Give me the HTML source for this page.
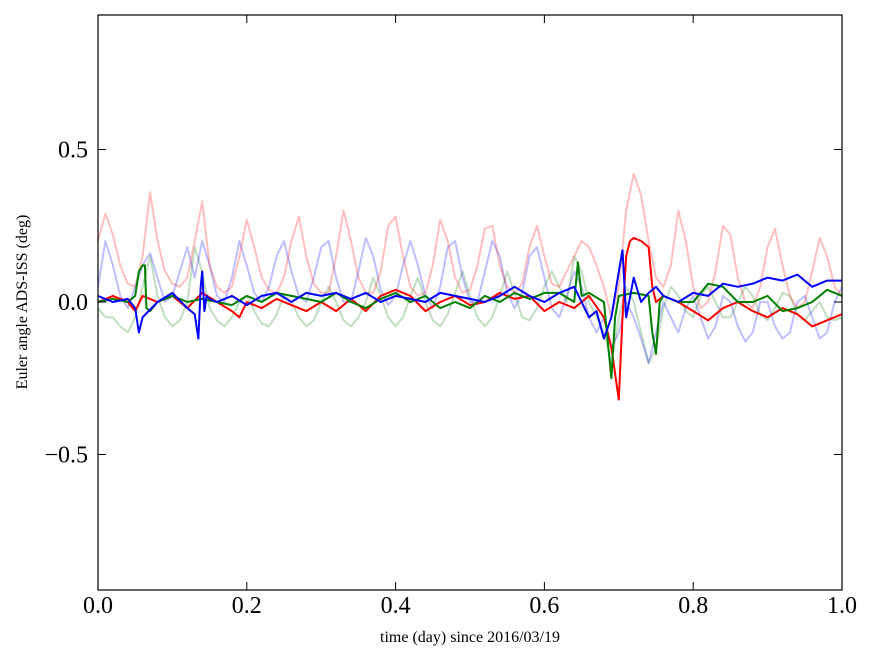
<!DOCTYPE html>
<html><head><meta charset="utf-8"><style>
html,body{margin:0;padding:0;background:#fff;}
svg{display:block;font-family:"Liberation Serif",serif;}
</style></head><body>
<svg id="chart" width="875" height="662">
<rect x="0" y="0" width="875" height="662" fill="#fff"/>
<g id="plot"></g>
<rect x="98" y="15" width="744" height="575" fill="none" stroke="#000" stroke-width="1.2"/>
<g id="axes"></g>
<text x="470" y="642" font-size="16" text-anchor="middle">time (day) since 2016/03/19</text>
<text x="27" y="302" font-size="16" text-anchor="middle" transform="rotate(-90 27 302)">Euler angle ADS-ISS (deg)</text>
</svg>
<script>
const xTicks=[0,0.2,0.4,0.6,0.8,1.0];
const xTickLabels=["0.0","0.2","0.4","0.6","0.8","1.0"];
const yTicks=[0.5,0,-0.5];
const yTickLabels=["0.5","0.0","\u22120.5"];
const gridX=[0,0.01,0.02,0.03,0.04,0.05,0.06,0.07,0.08,0.09,0.10,0.11,0.12,0.13,0.14,0.15,0.16,0.17,0.18,0.19,0.20,0.21,0.22,0.23,0.24,0.25,0.26,0.27,0.28,0.29,0.30,0.31,0.32,0.33,0.34,0.35,0.36,0.37,0.38,0.39,0.40,0.41,0.42,0.43,0.44,0.45,0.46,0.47,0.48,0.49,0.50,0.51,0.52,0.53,0.54,0.55,0.56,0.57,0.58,0.59,0.60,0.61,0.62,0.63,0.64,0.65,0.66,0.67,0.68,0.69,0.70,0.71,0.72,0.73,0.74,0.75,0.76,0.77,0.78,0.79,0.80,0.81,0.82,0.83,0.84,0.85,0.86,0.87,0.88,0.89,0.90,0.91,0.92,0.93,0.94,0.95,0.96,0.97,0.98,0.99,1.0];
const faintRed=[0.20,0.29,0.22,0.12,0.06,0.05,0.15,0.36,0.20,0.10,0.06,0.05,0.08,0.20,0.33,0.12,0.05,0.03,0.05,0.15,0.27,0.18,0.08,0.04,0.03,0.08,0.20,0.28,0.15,0.06,0.03,0.03,0.15,0.30,0.20,0.08,0.03,0.03,0.10,0.25,0.28,0.15,0.05,0.02,0.03,0.12,0.27,0.20,0.08,0.03,0.04,0.12,0.24,0.25,0.12,0.05,0.03,0.06,0.18,0.25,0.15,0.06,0.05,0.10,0.15,0.20,0.18,0.12,0.05,-0.05,0.05,0.30,0.42,0.35,0.20,0.08,0.05,0.12,0.30,0.20,0.05,-0.02,0.0,0.10,0.25,0.22,0.08,0.0,-0.02,0.05,0.18,0.24,0.12,0.02,-0.02,0.0,0.10,0.21,0.15,0.05,0.02];
const faintBlue=[0.05,0.20,0.12,0.02,-0.02,0.05,0.12,0.16,0.08,0.0,0.02,0.10,0.18,0.08,0.20,0.12,0.02,0.0,0.08,0.20,0.12,0.03,0.0,0.05,0.15,0.20,0.10,0.02,0.0,0.08,0.18,0.20,0.08,0.0,0.0,0.10,0.21,0.15,0.04,-0.01,0.02,0.12,0.20,0.12,0.02,-0.02,0.05,0.18,0.20,0.08,0.0,0.0,0.10,0.20,0.15,0.03,-0.02,0.03,0.15,0.18,0.08,-0.02,-0.05,0.02,0.10,0.05,-0.05,-0.10,-0.05,-0.15,-0.10,0.0,-0.05,-0.12,-0.20,-0.10,0.0,-0.05,-0.10,-0.02,0.02,-0.05,-0.12,-0.08,0.02,0.0,-0.08,-0.13,-0.10,0.0,0.0,-0.08,-0.12,-0.10,0.0,0.02,-0.05,-0.12,-0.10,0.0,0.05];
const faintGreen=[-0.02,-0.05,-0.05,-0.08,-0.10,-0.05,0.05,0.15,0.02,-0.05,-0.08,-0.06,0.0,0.18,0.10,-0.02,-0.06,-0.08,-0.05,0.0,0.02,-0.03,-0.07,-0.08,-0.04,0.02,0.0,-0.05,-0.08,-0.06,0.0,0.05,0.0,-0.06,-0.08,-0.05,0.0,0.08,0.02,-0.05,-0.08,-0.05,0.02,0.08,0.0,-0.06,-0.08,-0.04,0.03,0.10,0.02,-0.05,-0.08,-0.05,0.02,0.10,0.03,-0.05,-0.06,-0.02,0.05,0.10,0.05,0.0,0.15,0.10,0.0,-0.05,-0.10,-0.20,-0.05,0.05,0.0,-0.10,-0.20,-0.15,-0.02,0.05,0.02,-0.03,-0.05,0.02,0.05,0.0,-0.05,-0.05,0.0,0.05,0.02,-0.04,-0.06,-0.02,0.03,0.02,-0.04,-0.06,-0.03,0.0,-0.05,-0.06,-0.05];
const redX=[0,0.02,0.04,0.05,0.06,0.08,0.10,0.12,0.14,0.16,0.18,0.19,0.2,0.22,0.24,0.26,0.28,0.3,0.32,0.34,0.36,0.38,0.4,0.42,0.44,0.46,0.48,0.5,0.52,0.54,0.56,0.58,0.6,0.62,0.64,0.66,0.68,0.69,0.7,0.705,0.71,0.715,0.72,0.73,0.74,0.745,0.75,0.76,0.78,0.8,0.82,0.84,0.86,0.88,0.9,0.92,0.94,0.96,0.98,1.0];
const redY=[0.0,0.02,0.0,-0.03,0.02,0.0,0.02,-0.02,0.03,0.0,-0.03,-0.05,0.0,-0.02,0.01,-0.01,-0.03,0.0,-0.03,0.01,-0.03,0.02,0.04,0.02,-0.03,0.0,0.02,-0.01,0.0,0.03,0.01,0.02,-0.03,0.0,-0.02,0.02,-0.05,-0.15,-0.32,-0.05,0.15,0.2,0.21,0.2,0.18,0.05,0.0,0.02,0.0,-0.03,-0.06,-0.02,0.0,-0.03,-0.05,-0.02,-0.04,-0.08,-0.06,-0.04];
const greenX=[0,0.02,0.04,0.05,0.055,0.06,0.063,0.065,0.07,0.08,0.1,0.12,0.14,0.16,0.18,0.2,0.22,0.24,0.26,0.28,0.3,0.32,0.34,0.36,0.38,0.4,0.42,0.44,0.46,0.48,0.5,0.52,0.54,0.56,0.58,0.6,0.62,0.64,0.645,0.65,0.66,0.68,0.69,0.695,0.7,0.72,0.74,0.745,0.75,0.755,0.76,0.78,0.8,0.82,0.84,0.86,0.88,0.9,0.92,0.94,0.96,0.98,1.0];
const greenY=[0,0.01,0.0,0.02,0.10,0.12,0.12,-0.02,-0.03,0.0,0.02,0.0,0.01,0.0,-0.01,0.02,0.0,0.03,0.02,0.01,0.0,0.03,0.0,-0.02,0.01,0.03,0.0,0.02,-0.02,0.0,-0.02,0.02,0.0,0.03,0.01,0.03,0.03,0.0,0.13,0.02,0.03,0.0,-0.25,-0.05,0.02,0.03,0.02,-0.1,-0.17,0.0,0.02,0.0,0.0,0.06,0.05,0.0,0.0,0.02,-0.03,-0.02,0.0,0.04,0.02];
const blueX=[0,0.02,0.04,0.05,0.055,0.06,0.08,0.1,0.12,0.13,0.135,0.138,0.14,0.143,0.146,0.15,0.16,0.18,0.2,0.22,0.24,0.26,0.28,0.3,0.32,0.34,0.36,0.38,0.4,0.42,0.44,0.46,0.48,0.5,0.52,0.54,0.56,0.58,0.6,0.62,0.64,0.66,0.67,0.68,0.69,0.7,0.705,0.71,0.72,0.73,0.74,0.75,0.76,0.78,0.8,0.82,0.84,0.86,0.88,0.9,0.92,0.94,0.96,0.98,1.0];
const blueY=[0.02,0.0,0.01,-0.02,-0.10,-0.05,0.0,0.03,-0.02,-0.04,-0.12,0.05,0.10,-0.03,0.02,0.01,0.0,0.02,-0.01,0.02,0.03,0.0,0.03,0.02,0.03,0.01,0.03,0.0,0.02,0.01,0.0,0.03,0.02,0.01,0.0,0.02,0.05,0.02,0.0,0.03,0.05,-0.05,-0.03,-0.12,-0.05,0.10,0.17,-0.05,0.08,0.0,0.03,0.05,0.02,0.0,0.03,0.02,0.06,0.05,0.06,0.08,0.07,0.09,0.05,0.07,0.07];

const NS='http://www.w3.org/2000/svg';
const X=v=>98+v*744;
const Y=v=>302-v*305;
const plot=document.getElementById('plot');
const axes=document.getElementById('axes');
function line(xs,ys,color,op,w,name){
  const p=document.createElementNS(NS,'polyline');
  p.setAttribute('points',xs.map((x,i)=>X(x).toFixed(1)+','+Y(ys[i]).toFixed(1)).join(' '));
  p.setAttribute('fill','none');p.setAttribute('stroke',color);
  p.setAttribute('stroke-opacity',op);p.setAttribute('stroke-width',w);
  p.setAttribute('stroke-linejoin','round');
  
  
  plot.appendChild(p);
}
line(gridX,faintGreen,'#008000',0.25,2,'series-green-faint');
line(gridX,faintBlue,'#0000ff',0.25,2,'series-blue-faint');
line(gridX,faintRed,'#ff0000',0.25,2,'series-red-faint');
line(redX,redY,'#ff0000',1,2,'series-red');
line(greenX,greenY,'#008000',1,2,'series-green');
line(blueX,blueY,'#0000ff',1,2,'series-blue');
function tick(x1,y1,x2,y2){
  const l=document.createElementNS(NS,'line');
  l.setAttribute('x1',x1);l.setAttribute('y1',y1);l.setAttribute('x2',x2);l.setAttribute('y2',y2);
  l.setAttribute('stroke','#000');l.setAttribute('stroke-width','1');
  
  
  axes.appendChild(l);
}
function label(x,y,txt,anchor,name){
  const t=document.createElementNS(NS,'text');
  t.setAttribute('x',x);t.setAttribute('y',y);t.setAttribute('font-size','24');
  t.setAttribute('text-anchor',anchor);t.textContent=txt;
  
  
  axes.appendChild(t);
}
xTicks.forEach((v,i)=>{const x=X(v);tick(x,590,x,582);tick(x,15,x,23);label(x,613,xTickLabels[i],'middle','x-tick-label');});
yTicks.forEach((v,i)=>{const y=Y(v);tick(98,y,106,y);tick(842,y,834,y);label(88,y+8,yTickLabels[i],'end','y-tick-label');});
</script>
</body></html>
